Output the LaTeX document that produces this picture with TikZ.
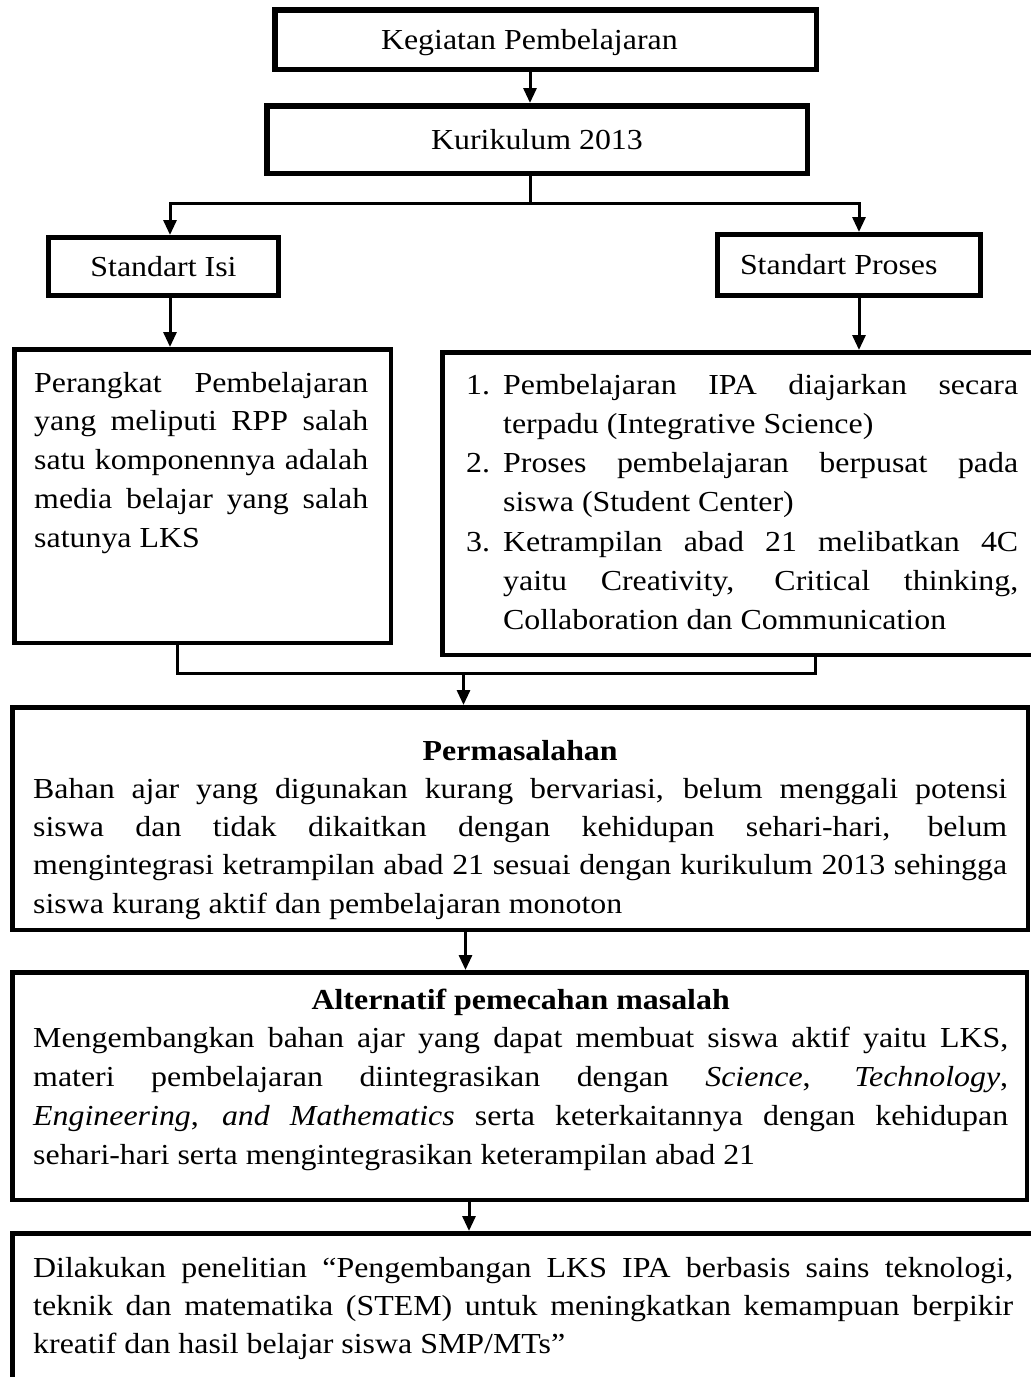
\documentclass[tikz,border=0pt]{standalone}
\usepackage{fontspec}
\setmainfont{Liberation Serif}[FakeStretch=1.1]
\usetikzlibrary{arrows.meta}
\newcommand{\myjl}[1]{\hbox to \hsize{#1}}
\newcommand{\mynl}[1]{\hbox{#1}}
\newcommand{\myitem}[2]{\hbox to \hsize{\hbox to 37pt{#1\hfil}#2}}
\newcommand{\mycont}[1]{\hbox to \hsize{\hskip 37pt #1}}
\newcommand{\mycontn}[1]{\hbox{\hskip 37pt #1}}
\newcommand{\myctr}[1]{\hbox to \hsize{\hfil #1\hfil}}
\begin{document}
\begin{tikzpicture}[x=1pt,y=-1pt,
  every node/.style={font=\fontsize{29pt}{38.7pt}\selectfont},
  bx/.style={draw, rectangle, inner sep=0pt, line width=#1},
  bx/.default=5pt,
  one/.style={text height=19pt, text depth=0pt},
  txt/.style={inner sep=0pt, anchor=base west},
  ln/.style={line width=3pt, line join=miter},
  arr/.style={line width=3pt, -{Triangle[width=13pt,length=15pt]}},
  arrtwo/.style={line width=3pt, line join=miter, {Triangle[width=13pt,length=15pt]}-{Triangle[width=13pt,length=15pt]}}]
\useasboundingbox (0,0) rectangle (1031,1377);
\clip (0,0) rectangle (1031,1377);

% boxes
\node[bx=5.5pt, minimum width=541.5pt, minimum height=59.5pt, one] (k1) at (545.5,39.5)
  {\makebox[541.5pt][l]{\hspace*{106.25pt}Kegiatan Pembelajaran}};
\node[bx=5.5pt, minimum width=540.5pt, minimum height=67.5pt, one] (k2) at (537,139.5) {Kurikulum 2013};
\node[bx, minimum width=230pt, minimum height=58pt, one] (isi) at (163.5,266.5) {Standart Isi};
\node[bx, minimum width=263pt, minimum height=61pt, one] (pro) at (849,265)
  {\makebox[263pt][l]{\hspace*{22.5pt}Standart Proses}};
\node[bx=4.5pt, minimum width=376.5pt, minimum height=293.5pt] (lb) at (202.5,496) {};
\node[bx=4.5pt, minimum width=605.5pt, minimum height=302.5pt] (rb) at (745,503.5) {};
\node[bx=4.5pt, minimum width=1015.5pt, minimum height=222.5pt] (pm) at (520,818.5) {};
\node[bx=4.5pt, minimum width=1014.5pt, minimum height=227.5pt] (al) at (519.5,1086) {};
\node[bx=4.5pt, minimum width=1037.75pt, minimum height=186.75pt] (fin) at (531.125,1326.625) {};

% texts
\node[txt] (lbt) at (34,392) {\parbox[t]{334pt}{\baselineskip=38.8pt
  \myjl{Perangkat Pembelajaran}
  \myjl{yang meliputi RPP salah}
  \myjl{satu komponennya adalah}
  \myjl{media belajar yang salah}
  \mynl{satunya LKS}}};
\node[txt] (rbt) at (466,394) {\parbox[t]{552pt}{\baselineskip=39.3pt
  \myitem{1.}{Pembelajaran IPA diajarkan secara}
  \mycontn{terpadu (Integrative Science)}
  \myitem{2.}{Proses pembelajaran berpusat pada}
  \mycontn{siswa (Student Center)}
  \myitem{3.}{Ketrampilan abad 21 melibatkan 4C}
  \mycont{yaitu Creativity, Critical thinking,}
  \mycontn{Collaboration dan Communication}}};
\node[txt] (pmt) at (33,760) {\parbox[t]{974pt}{\baselineskip=38.3pt
  \myctr{\bfseries Permasalahan}
  \myjl{Bahan ajar yang digunakan kurang bervariasi, belum menggali potensi}
  \myjl{siswa dan tidak dikaitkan dengan kehidupan sehari-hari, belum}
  \myjl{mengintegrasi ketrampilan abad 21 sesuai dengan kurikulum 2013 sehingga}
  \mynl{siswa kurang aktif dan pembelajaran monoton}}};
\node[txt] (alt) at (33,1009) {\parbox[t]{975pt}{\baselineskip=38.75pt
  \myctr{\bfseries Alternatif pemecahan masalah}
  \myjl{Mengembangkan bahan ajar yang dapat membuat siswa aktif yaitu LKS,}
  \myjl{materi pembelajaran diintegrasikan dengan \textit{Science}, \textit{Technology},}
  \myjl{\textit{Engineering}, \textit{and Mathematics} serta keterkaitannya dengan kehidupan}
  \mynl{sehari-hari serta mengintegrasikan keterampilan abad 21}}};
\node[txt] (fint) at (33,1277) {\parbox[t]{980pt}{\baselineskip=38.3pt
  \myjl{Dilakukan penelitian “Pengembangan LKS IPA berbasis sains teknologi,}
  \myjl{teknik dan matematika (STEM) untuk meningkatkan kemampuan berpikir}
  \mynl{kreatif dan hasil belajar siswa SMP/MTs”}}};

% coordinates
\coordinate (cx) at (530,0);
\coordinate (jl) at (170,203.5);
\coordinate (jm) at (530,203.5);
\coordinate (jr) at (859,203.5);
\coordinate (ml) at (177,673);
\coordinate (mm) at (463.5,673);
\coordinate (mr) at (815,673);
\coordinate (cp) at (465.5,0);
\coordinate (ca) at (469,0);

% connectors
\draw[arr] (cx |- k1.south) -- (cx |- k2.north);
\draw[ln] (cx |- k2.south) -- (jm);
\draw[arrtwo] (jl |- isi.north) -- (jl) -- (jr) -- (jr |- pro.north);
\draw[arr] (jl |- isi.south) -- (jl |- lb.north);
\draw[arr] (jr |- pro.south) -- (jr |- rb.north);
\draw[ln] (ml |- lb.south) -- (ml) -- (mr) -- (mr |- rb.south);
\draw[arr] (mm) -- (mm |- pm.north);
\draw[arr] (cp |- pm.south) -- (cp |- al.north);
\draw[arr] (ca |- al.south) -- (ca |- fin.north);
\end{tikzpicture}
\end{document}
